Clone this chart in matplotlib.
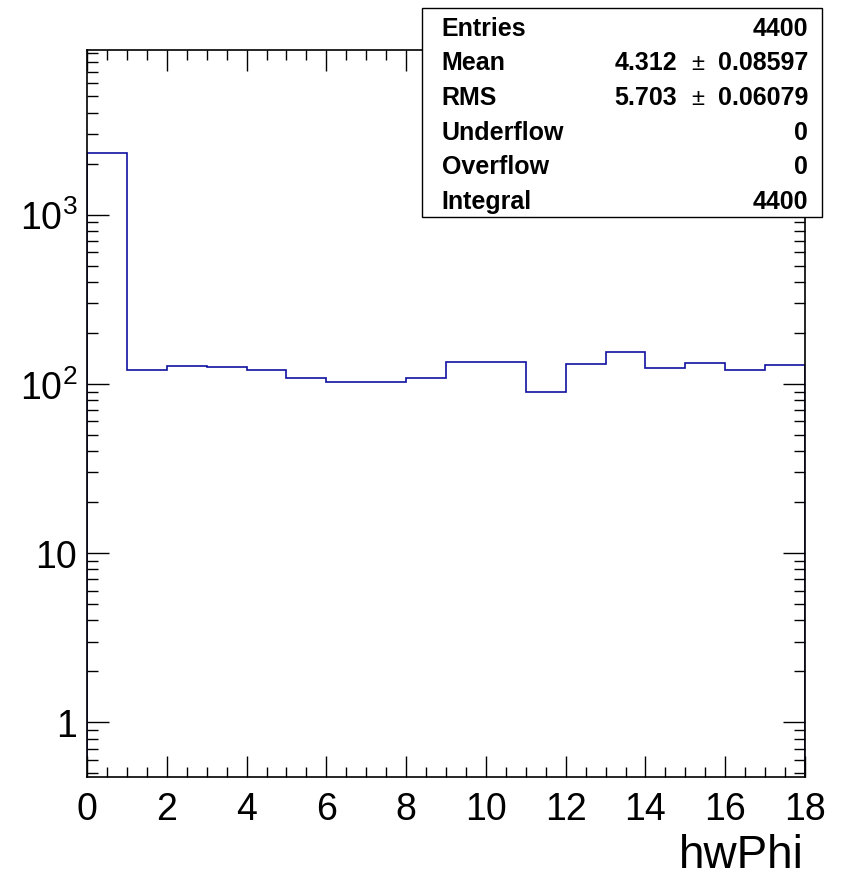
import numpy as np
import matplotlib
matplotlib.use("Agg")
import matplotlib.pyplot as plt
from matplotlib.patches import Rectangle
from matplotlib.ticker import FixedLocator, MultipleLocator, NullFormatter

plt.rcParams['font.family'] = ['Liberation Sans', 'DejaVu Sans']
plt.rcParams['mathtext.fontset'] = 'custom'
plt.rcParams['mathtext.rm'] = 'Liberation Sans'

# hwPhi histogram, 18 unit-width bins from 0 to 18
bin_edges = np.arange(0, 19, 1)
counts = [2330, 120, 127, 125, 121, 108, 102, 102, 108, 134,
          135, 90, 131, 154, 124, 133, 120, 130]

y_major = [1, 10, 100, 1000]
y_labels = ['1', '10', r'$\mathregular{10^{2}}$', r'$\mathregular{10^{3}}$']

stat_names = ['Entries', 'Mean', 'RMS', 'Underflow', 'Overflow', 'Integral']
stat_vals = ['4400', '4.312', '5.703', '0', '0', '4400']
stat_errs = [None, '0.08597', '0.06079', None, None, None]

W, H = 842, 878
fig = plt.figure(figsize=(W / 100, H / 100), dpi=100)
ax = fig.add_axes([87 / W, 1 - 777.7 / H, (805 - 87) / W, (777.7 - 51) / H])

ax.stairs(counts, bin_edges, color='#1010a0', linewidth=1.2)

ax.set_yscale('log')
ax.set_xlim(0, 18)
ax.set_ylim(0.477, 9400)

ax.xaxis.set_major_locator(MultipleLocator(2))
ax.xaxis.set_minor_locator(MultipleLocator(0.5))
ax.yaxis.set_major_locator(FixedLocator(y_major))
ax.set_yticklabels(y_labels)
minors = [m * 10.0 ** e for e in range(-1, 4) for m in range(2, 10)]
ax.yaxis.set_minor_locator(FixedLocator(minors))
ax.yaxis.set_minor_formatter(NullFormatter())

ax.tick_params(which='both', direction='in', top=True, right=True,
               labelsize=27, width=1.0, color='black')
ax.tick_params(axis='x', which='major', length=15, pad=10)
ax.tick_params(axis='x', which='minor', length=7.5)
ax.tick_params(axis='y', which='major', length=16, pad=7)
ax.tick_params(axis='y', which='minor', length=8)
for s in ax.spines.values():
    s.set_linewidth(1.2)

fig.text(804 / W, 1 - 868 / H, 'hwPhi', fontsize=33, ha='right', va='baseline')

# stats box
fig.add_artist(Rectangle((421.7 / W, 1 - 218.3 / H), (822 - 421.7) / W, (218.3 - 9.3) / H,
                         transform=fig.transFigure, facecolor='white',
                         edgecolor='black', linewidth=1.0, zorder=5))
for i, name in enumerate(stat_names):
    yb = 1 - (35.7 + 34.6 * i) / H
    fig.text(441.7 / W, yb, name, fontsize=18, fontweight='bold',
             ha='left', va='baseline', zorder=6)
    if stat_errs[i] is None:
        fig.text(808 / W, yb, stat_vals[i], fontsize=18, fontweight='bold',
                 ha='right', va='baseline', zorder=6)
    else:
        fig.text(808 / W, yb, stat_errs[i], fontsize=18, fontweight='bold',
                 ha='right', va='baseline', zorder=6)
        fig.text(698 / W, yb, '\u00b1', fontsize=17, ha='center',
                 va='baseline', zorder=6)
        fig.text(677 / W, yb, stat_vals[i], fontsize=18, fontweight='bold',
                 ha='right', va='baseline', zorder=6)

fig.savefig('out.png', dpi=100)
